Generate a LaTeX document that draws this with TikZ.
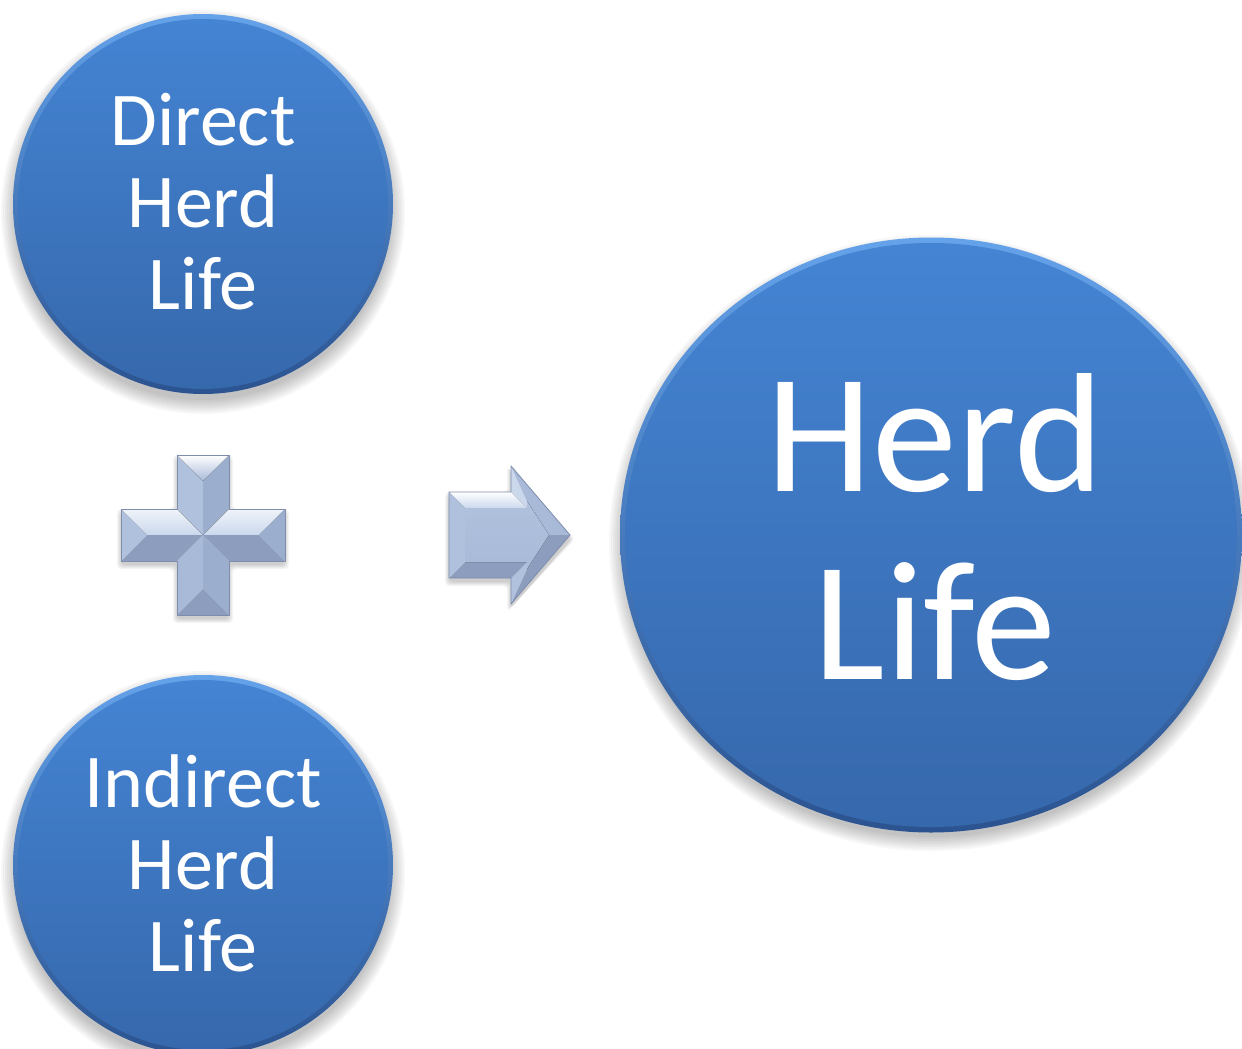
\documentclass[tikz,border=0pt]{standalone}
\usepackage{fontspec}
\setmainfont{Carlito}
\usetikzlibrary{shapes.geometric}
\definecolor{rimtop}{HTML}{64A2EA}
\definecolor{rimbot}{HTML}{2B5390}
\definecolor{disctop}{HTML}{4484D3}
\definecolor{discbot}{HTML}{3668AC}
\definecolor{pltop}{HTML}{CBD8EC}
\definecolor{plleft}{HTML}{B0C1DD}
\definecolor{plface}{HTML}{A8BAD8}
\definecolor{plright}{HTML}{9CAECE}
\definecolor{plbot}{HTML}{8C9DBD}
\definecolor{pledge}{HTML}{7D8DAB}
\begin{document}
\begin{tikzpicture}[x=0.5pt,y=-0.5pt,
  rimdisc/.style={circle, inner sep=0pt, top color=rimtop, bottom color=rimbot},
  rimoval/.style={ellipse, inner sep=0pt, top color=rimtop, bottom color=rimbot},
  smalltext/.style={text=white, align=center, inner sep=0pt, font=\fontsize{38}{41}\selectfont},
  bigtext/.style={text=white, align=center, inner sep=0pt, font=\fontsize{85}{94}\selectfont},
  softshadow/.style={fill=black, opacity=0.03},
  facet/.style={line join=round}
]
\useasboundingbox (0,0) rectangle (1242,1049);
\fill[white] (0,0) rectangle (1242,1049);

% centres
\coordinate (cTop) at (203,204);
\coordinate (cBot) at (203,865);
\coordinate (cBig) at (931,535);

% soft shadows of the discs
\foreach \k in {0,...,7}{
  \fill[softshadow] ([yshift=-4pt]cTop) circle [radius={(94+\k)*1pt}];
  \fill[softshadow] ([yshift=-4pt]cBot) circle [radius={(94+\k)*1pt}];
  \fill[softshadow] ([yshift=-4pt]cBig) ellipse [x radius={(154+\k)*1pt}, y radius={(147+\k)*1pt}];
}

% discs
\node[rimdisc, minimum size=190pt] (top) at (cTop) {};
\shade[top color=disctop, bottom color=discbot] (cTop) circle [radius=92.5pt];
\node[rimdisc, minimum size=190pt] (bot) at (cBot) {};
\shade[top color=disctop, bottom color=discbot] (cBot) circle [radius=92.5pt];
\node[rimoval, minimum width=311pt, minimum height=297.5pt] (big) at (cBig) {};
\shade[top color=disctop, bottom color=discbot] (cBig) ellipse [x radius=153pt, y radius=146pt];

% texts
\node[smalltext] (topText) at (203,202) {Direct\\Herd\\Life};
\node[smalltext] (botText) at (203,863) {Indirect\\Herd\\Life};
\node[bigtext] (bigText) at (935,527) {Herd\\Life};

% plus sign: shadow
\foreach \k in {0,...,4}{
  \fill[black, opacity=0.04, rounded corners=2pt]
    (177-\k,459-\k) -- (229+\k,459-\k) -- (229+\k,513-\k) -- (285+\k,513-\k) -- (285+\k,565+\k)
    -- (229+\k,565+\k) -- (229+\k,619+\k) -- (177-\k,619+\k) -- (177-\k,565+\k) -- (121-\k,565+\k)
    -- (121-\k,513-\k) -- (177-\k,513-\k) -- cycle;
}
% plus sign: facets
\coordinate (pc) at (203,535);
\fill[plleft, facet] (177,455) -- (203,481) -- (pc) -- (177,509) -- cycle;
\fill[plright, facet] (229,455) -- (203,481) -- (pc) -- (229,509) -- cycle;
\fill[top color=white, bottom color=plface, facet] (177,455) -- (229,455) -- (203,481) -- cycle;
\fill[top color=white!70!pltop, bottom color=pltop, facet] (121,509) -- (177,509) -- (pc) -- (147,535) -- cycle;
\fill[top color=white!70!pltop, bottom color=pltop, facet] (285,509) -- (229,509) -- (pc) -- (259,535) -- cycle;
\fill[plbot, facet] (121,561) -- (177,561) -- (pc) -- (147,535) -- cycle;
\fill[plbot, facet] (285,561) -- (229,561) -- (pc) -- (259,535) -- cycle;
\fill[plleft, facet] (121,509) -- (147,535) -- (121,561) -- cycle;
\fill[plright, facet] (285,509) -- (259,535) -- (285,561) -- cycle;
\fill[plface, facet] (177,561) -- (pc) -- (203,589) -- (177,615) -- cycle;
\fill[plright, facet] (229,561) -- (pc) -- (203,589) -- (229,615) -- cycle;
\fill[plbot, facet] (177,615) -- (229,615) -- (203,589) -- cycle;
\draw[pledge, line width=0.4pt, line join=round]
  (177,455) -- (229,455) -- (229,509) -- (285,509) -- (285,561) -- (229,561) -- (229,615)
  -- (177,615) -- (177,561) -- (121,561) -- (121,509) -- (177,509) -- cycle;

% block arrow: shadow
\foreach \k in {0,...,4}{
  \fill[black, opacity=0.04, rounded corners=2pt]
    (449-\k,496-\k) -- (511-\k,496-\k) -- (511-\k,470-\k) -- (571+\k,539) -- (511-\k,608+\k)
    -- (511-\k,582+\k) -- (449-\k,582+\k) -- cycle;
}
% block arrow: facets
\coordinate (O1) at (449,492);
\coordinate (O2) at (511,492);
\coordinate (O3) at (511,466);
\coordinate (O4) at (570,535);
\coordinate (O5) at (511,604);
\coordinate (O6) at (511,578);
\coordinate (O7) at (449,578);
\coordinate (I1) at (465,508);
\coordinate (I2) at (527,508);
\coordinate (I3) at (527,501);
\coordinate (I4) at (549,535);
\coordinate (I5) at (527,569);
\coordinate (I6) at (527,562);
\coordinate (I7) at (465,562);
\fill[top color=white, bottom color=pltop, facet] (O1) -- (O2) -- (I2) -- (I1) -- cycle;
\fill[pltop, facet] (O2) -- (O3) -- (I3) -- (I2) -- cycle;
\fill[plface, facet] (O3) -- (O4) -- (I4) -- (I3) -- cycle;
\fill[plbot, facet] (O4) -- (O5) -- (I5) -- (I4) -- cycle;
\fill[plleft, facet] (O5) -- (O6) -- (I6) -- (I5) -- cycle;
\fill[plbot, facet] (O6) -- (O7) -- (I7) -- (I6) -- cycle;
\fill[plleft, facet] (O7) -- (O1) -- (I1) -- (I7) -- cycle;
\fill[top color=plleft, bottom color=plface, facet] (I1) -- (I2) -- (I3) -- (I4) -- (I5) -- (I6) -- (I7) -- cycle;
\draw[pledge, line width=0.4pt, line join=round]
  (O1) -- (O2) -- (O3) -- (O4) -- (O5) -- (O6) -- (O7) -- cycle;
\end{tikzpicture}
\end{document}
